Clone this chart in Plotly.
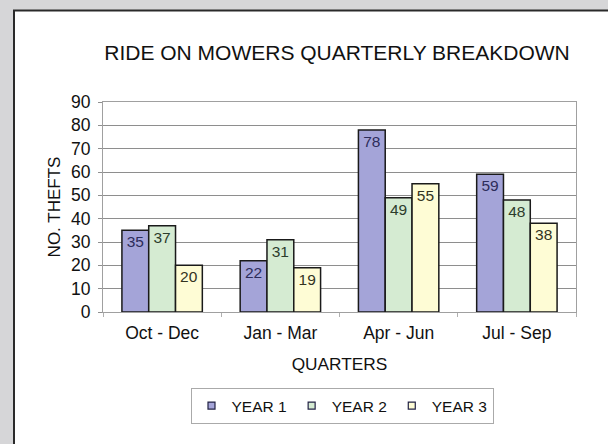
import plotly.graph_objects as go

quarters = ["Oct - Dec", "Jan - Mar", "Apr - Jun", "Jul - Sep"]
year1 = [35, 22, 78, 59]
year2 = [37, 31, 49, 48]
year3 = [20, 19, 55, 38]
series_names = ["YEAR 1", "YEAR 2", "YEAR 3"]
colors = ["#a4a4d8", "#d5ebd2", "#fefcd5"]
text_colors = ["#2c2c5a", "#2c3c2c", "#333322"]

W, H = 608, 444
L, R, T, B = 103, 32, 102, 132
pw = W - L - R
ph = H - T - B
FONT = "Arial, Liberation Sans, sans-serif"

fig = go.Figure()
for name, vals, c, tc in zip(series_names, [year1, year2, year3], colors, text_colors):
    fig.add_trace(go.Bar(
        x=quarters, y=vals, name=name, showlegend=False,
        marker=dict(color=c, line=dict(color="#1a1a1a", width=1.5)),
        text=[str(v) for v in vals], textposition="inside", insidetextanchor="end",
        textfont=dict(family=FONT, size=15.5, color=tc),
        textangle=0,
    ))
# legend entries with small square markers
for name, c in zip(series_names, colors):
    fig.add_trace(go.Scatter(
        x=[None], y=[None], mode="markers", name=name,
        marker=dict(symbol="square", size=7, color=c, line=dict(color="#222244", width=1.2)),
    ))

def px_x(x):
    return (x - L) / pw

def px_y(y):
    return (H - B - y) / ph

fig.add_shape(type="rect", xref="paper", yref="paper",
              x0=px_x(14), x1=px_x(640), y0=px_y(10.5), y1=px_y(480),
              fillcolor="white", line=dict(color="#2a2a2a", width=2), layer="below")

fig.update_layout(
    width=W, height=H,
    margin=dict(l=L, r=R, t=T, b=B, autoexpand=False),
    paper_bgcolor="#d6d6d8",
    plot_bgcolor="#c3c3c3",
    barmode="group", bargap=0.32, bargroupgap=0,
    font=dict(family=FONT, size=15, color="#111111"),
    title=dict(text="RIDE ON MOWERS QUARTERLY BREAKDOWN", xref="container", x=337 / W,
               xanchor="center", yref="container", y=1 - 52.5 / H, yanchor="middle",
               font=dict(size=21, color="#111111")),
    showlegend=True,
    legend=dict(orientation="h", x=px_x(342), xanchor="center", y=px_y(388), yanchor="top",
                bordercolor="#aaaaaa", borderwidth=1, bgcolor="white",
                font=dict(size=15.5, color="#111111"), itemwidth=30, traceorder="normal"),
)
fig.update_yaxes(range=[0, 90], dtick=10, showgrid=True, gridcolor="#8e8e8e", gridwidth=1,
                 showline=True, linecolor="#a0a0a0", ticks="outside", ticklen=4, tickcolor="#909090",
                 ticklabelstandoff=4, tickfont=dict(size=17.5),
                 title=dict(text="NO. THEFTS", standoff=6, font=dict(size=17)),
                 zeroline=False, mirror=True, automargin=False)
fig.update_xaxes(showline=True, linecolor="#a0a0a0", ticks="outside", tickson="boundaries",
                 ticklen=4, tickcolor="#b0b0b0", mirror=True, tickfont=dict(size=17.5),
                 ticklabelstandoff=5,
                 title=dict(text="QUARTERS", standoff=15, font=dict(size=17.3)), automargin=False)

fig.write_html("out.html", config={"displayModeBar": False},
               post_script="document.body.style.margin='0px';")
